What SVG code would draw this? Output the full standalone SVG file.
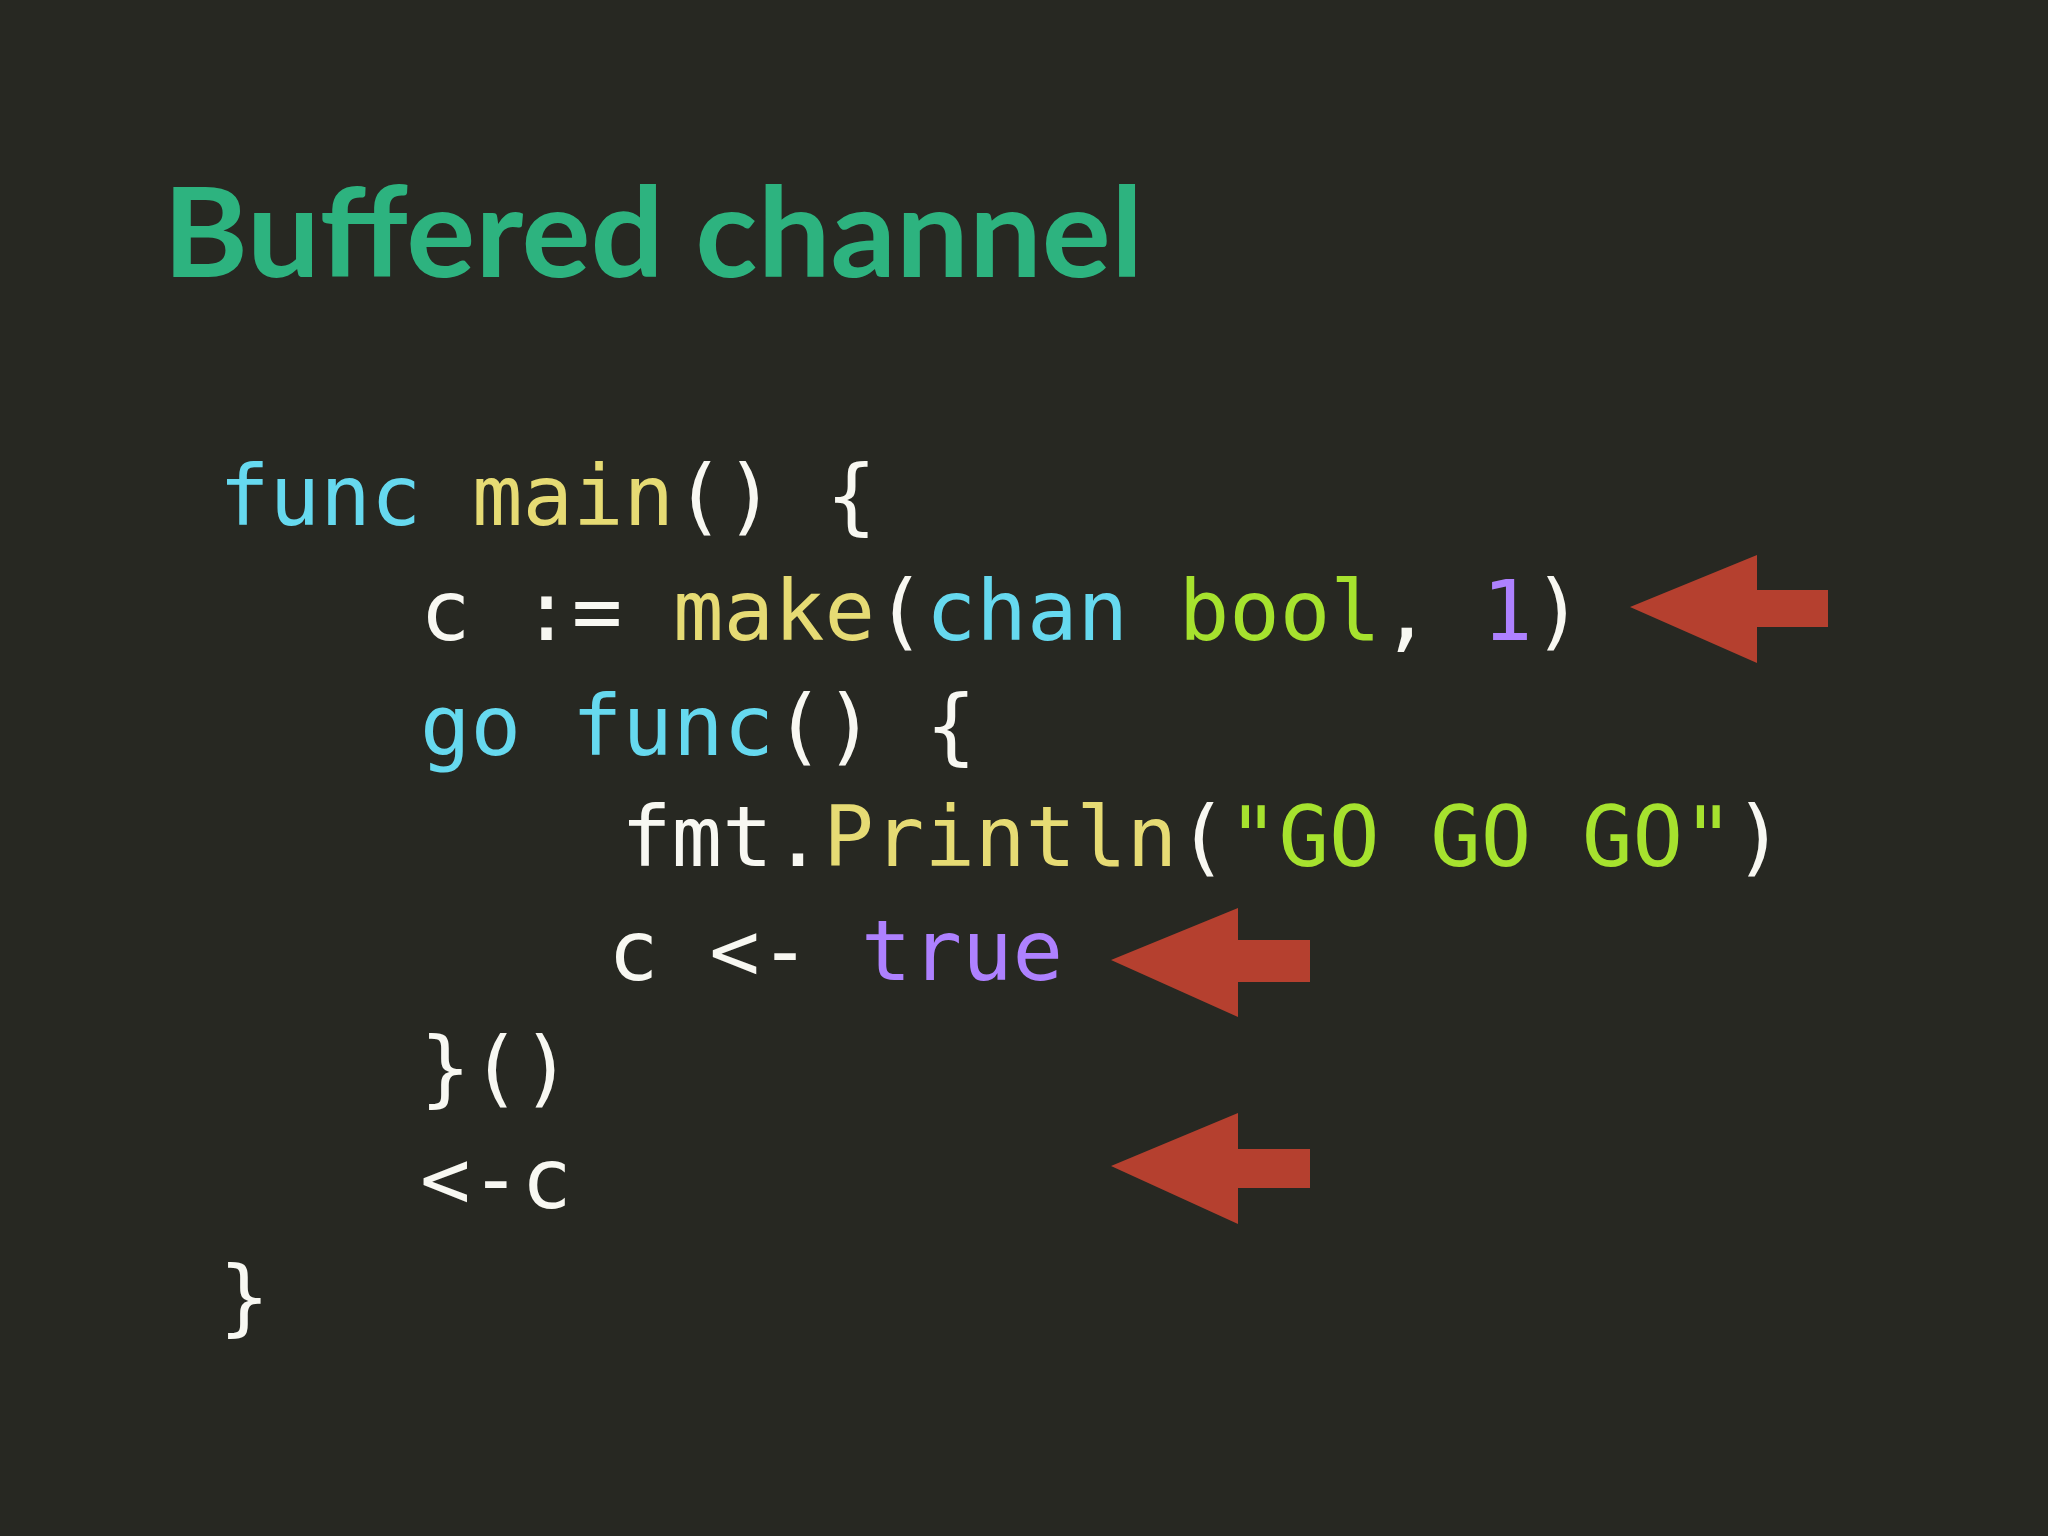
<svg xmlns="http://www.w3.org/2000/svg" width="2048" height="1536" viewBox="0 0 2048 1536">
<style>
.code{font-family:"DejaVu Sans Mono",monospace;font-size:84px;fill:#f8f8f2;white-space:pre}
.k{fill:#66d9ef}.f{fill:#e6db74}.g{fill:#a6e22e}.n{fill:#ae81ff}
.arrow{fill:#b5402f}
</style>
<rect width="2048" height="1536" fill="#272822"/>
<g id="title"><text x="163" y="277" font-family="Lato, 'Liberation Sans', sans-serif" font-weight="bold" font-size="124" fill="#2db37f" textLength="980" lengthAdjust="spacingAndGlyphs">Buffered channel</text></g>
<g id="code" class="code" xml:space="preserve">
<text x="219" y="525"><tspan class="k">func</tspan> <tspan class="f">main</tspan>() {</text>
<text x="420" y="640">c := <tspan class="f">make</tspan>(<tspan class="k">chan</tspan> <tspan class="g">bool</tspan>, <tspan class="n">1</tspan>)</text>
<text x="420" y="755"><tspan class="k">go</tspan> <tspan class="k">func</tspan>() {</text>
<text x="621" y="866">fmt.<tspan class="f">Println</tspan>(<tspan class="g">"GO GO GO"</tspan>)</text>
<text x="608" y="980">c &lt;- <tspan class="n">true</tspan></text>
<text x="420" y="1097">}()</text>
<text x="420" y="1208">&lt;-c</text>
<text x="219" y="1326">}</text>
</g>
<g id="connectors">
<polygon class="arrow" points="1630,607 1757,555 1757,590 1828,590 1828,627 1757,627 1757,663"/>
<polygon class="arrow" points="1111,960 1238,908 1238,940 1310,940 1310,982 1238,982 1238,1017"/>
<polygon class="arrow" points="1111,1166 1238,1113 1238,1149 1310,1149 1310,1188 1238,1188 1238,1224"/>
</g>
</svg>
